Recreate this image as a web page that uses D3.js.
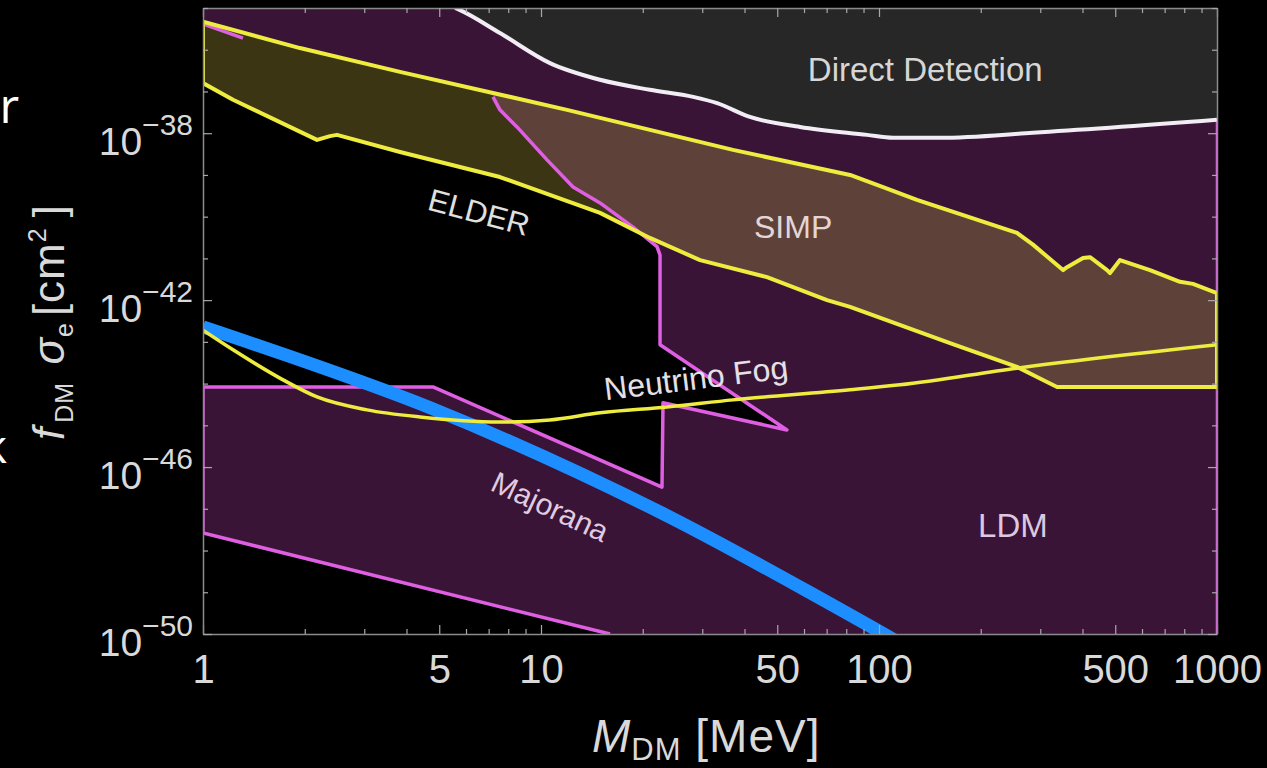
<!DOCTYPE html>
<html>
<head>
<meta charset="utf-8">
<script src="https://cdn.jsdelivr.net/npm/d3@7"></script>
<style>
  html, body { margin: 0; padding: 0; background: #000; }
  svg { display: block; }
</style>
</head>
<body>
<svg id="chart" width="1267" height="768"></svg>
<script>
// Dark-matter mass in MeV, cross-sections as log10(sigma / cm^2)
const massTickLabels = [1, 5, 10, 50, 100, 500, 1000];
const sigmaTickLabels = [-50, -46, -42, -38];

// Direct-detection exclusion boundary
const directDetection = [[5.57,-35.0],[5.76,-35.05],[7.56,-35.60],[10.63,-36.32],[14.95,-36.72],
  [21.0,-36.96],[28.2,-37.13],[33.2,-37.28],[41.5,-37.61],[58.4,-37.85],[92.2,-38.04],
  [110,-38.11],[151.6,-38.11],[285.5,-37.99],[1000,-37.68]];

// Upper and lower edges of the ELDER / SIMP band
const bandUpper = [[1,-35.33],[1.936,-35.96],[3.827,-36.53],[11.94,-37.44],[36.98,-38.40],
  [82.1,-39.0],[102.8,-39.29],[129.5,-39.60],[256,-40.39],[285.5,-40.67],[350.3,-41.28],
  [359.9,-41.21],[401.5,-40.99],[421,-40.97],[472.8,-41.28],[482.5,-41.35],[516.4,-41.04],
  [633.7,-41.28],[777.3,-41.56],[849.2,-41.61],[1000,-41.83]];
const bandLower = [[1,-36.80],[1.227,-37.20],[2.175,-38.16],[2.375,-38.07],[2.491,-38.04],
  [3.827,-38.45],[7.56,-39.05],[14.95,-39.91],[21.0,-40.51],[29.55,-41.04],[46.63,-41.45],
  [70.2,-42.0],[82.1,-42.16],[162.2,-43.03],[256,-43.60],[293.4,-43.84],[336.3,-44.08],
  [1000,-44.08]];

// Light-DM boundary: Majorana strip and neutrino-fog notch
const majoranaEdge = [[16.0,-50],[1,-47.58],[1,-44.08],[4.79,-44.08],[22.8,-46.48],
  [22.96,-44.46],[53.4,-45.11],[22.5,-43.07]];
// SIMP boundary, from the notch up to the top of the band
const simpEdge = [[22.5,-43.07],[22.5,-40.92],[22.04,-40.72],[18.72,-40.25],[14.95,-39.67],
  [12.44,-39.29],[10.42,-38.64],[8.49,-37.85],[7.56,-37.44],[7.21,-37.13]];
const simpTopEdge = [[1,-35.38],[1.313,-35.72]];
const ldmRightEdge = [[1000,-37.68],[1000,-50]];

// Majorana prediction
const majorana = [[1,-42.64],[4.70,-44.58],[22.5,-47.08],[115.4,-50.22]];

// Freeze-in style curve
const lowerCurve = [[1,-42.72],[1.227,-43.19],[1.725,-43.91],[2.175,-44.32],[3.057,-44.63],
  [4.385,-44.80],[7.56,-44.92],[10.63,-44.87],[14.95,-44.70],[23.6,-44.56],[36.98,-44.39],
  [82.1,-44.15],[115.4,-44.03],[256,-43.63],[1000,-43.07]];

const svg = d3.select("#chart");
const x = d3.scaleLog().domain([1, 1000]).range([203, 1217]);
const y = d3.scaleLog().domain([1e-50, 1e-35]).range([634, 8]);
const px = d => x(d[0]);
const py = d => y(Math.pow(10, d[1]));
const line = d3.line().x(px).y(py);
const smooth = d3.line().x(px).y(py).curve(d3.curveMonotoneX);
const spline = d3.line().x(px).y(py).curve(d3.curveCatmullRom);

const colors = {
  ldm: "#3a1436", black: "#000000", dd: "#272727", elder: "#3b3514", simp: "#5e4239",
  yellow: "#eeec3e", magenta: "#df5fe3", blue: "#1d8eff", white: "#f2ecf4",
  axis: "#8a8a8a", text: "#d9d9d9"
};
const font = "'Liberation Sans', Arial, sans-serif";

const defs = svg.append("defs");
defs.append("clipPath").attr("id", "plotClip").append("rect")
  .attr("x", x(1)).attr("y", y(1e-35))
  .attr("width", x(1000) - x(1)).attr("height", y(1e-50) - y(1e-35));

// region right of the SIMP boundary
const simpClipPts = simpEdge.concat([[simpEdge[simpEdge.length-1][0], -35], [1000, -35], [1000, -50], [simpEdge[0][0], -50]]);
defs.append("clipPath").attr("id", "simpClip").append("path").attr("d", line(simpClipPts) + "Z");

const plot = svg.append("g").attr("clip-path", "url(#plotClip)");

// LDM background
plot.append("rect")
  .attr("x", x(1)).attr("y", y(1e-35))
  .attr("width", x(1000) - x(1)).attr("height", y(1e-50) - y(1e-35))
  .attr("fill", colors.ldm);

// unexplored region above the Majorana strip
const leftOfSimp = bandUpper.filter(d => d[0] < simpEdge[simpEdge.length-1][0]).reverse();
const blackPts = majoranaEdge.slice(2).concat(simpEdge.slice(1), leftOfSimp);
plot.append("path").attr("d", line(blackPts) + "Z").attr("fill", colors.black);
// region below the Majorana strip
plot.append("path").attr("d", line([majoranaEdge[0], majoranaEdge[1], [1, -50]]) + "Z").attr("fill", colors.black);

// direct detection exclusion
plot.append("path").attr("d", line(directDetection.concat([[1000, -35]])) + "Z").attr("fill", colors.dd);

// ELDER / SIMP band
const bandPts = bandUpper.concat(bandLower.slice().reverse());
plot.append("path").attr("d", line(bandPts) + "Z").attr("fill", colors.elder);
plot.append("path").attr("d", line(bandPts) + "Z").attr("fill", colors.simp).attr("clip-path", "url(#simpClip)");

// magenta boundaries
const magentaStyle = sel => sel.attr("fill", "none").attr("stroke", colors.magenta)
  .attr("stroke-width", 3.5).attr("stroke-linejoin", "round");
plot.append("path").attr("d", line(majoranaEdge.concat(simpEdge.slice(1)))).call(magentaStyle);
plot.append("path").attr("d", line(simpTopEdge)).call(magentaStyle);
plot.append("path").attr("d", line(ldmRightEdge)).call(magentaStyle).attr("stroke-width", 2.5);

// Majorana line
plot.append("path").attr("d", spline(majorana))
  .attr("fill", "none").attr("stroke", colors.blue).attr("stroke-width", 13);

// yellow boundaries
plot.append("path").attr("d", line(bandPts) + "Z")
  .attr("fill", "none").attr("stroke", colors.yellow).attr("stroke-width", 4).attr("stroke-linejoin", "round");
plot.append("path").attr("d", smooth(lowerCurve))
  .attr("fill", "none").attr("stroke", colors.yellow).attr("stroke-width", 3.5);

// direct detection edge
plot.append("path").attr("d", smooth(directDetection))
  .attr("fill", "none").attr("stroke", colors.white).attr("stroke-width", 4);

// axes
const massTicks = [];
[1, 10, 100].forEach(b => { for (let k = 1; k <= 9; k++) massTicks.push(b * k); });
massTicks.push(1000);
const sigmaTicks = d3.range(-50, -34).map(e => Math.pow(10, e));
const isMajorMass = d => massTickLabels.includes(d);
const isMajorSigma = d => sigmaTickLabels.includes(Math.round(Math.log10(d)));

const styleAxis = (g, isMajor) => {
  g.select(".domain").attr("stroke", colors.axis).attr("stroke-width", 1.5);
  g.selectAll(".tick line").attr("stroke", "#a8a8a8").attr("stroke-width", 1.2)
    .each(function(d) {
      const ln = d3.select(this);
      const scale = isMajor(d) ? 9 / 5 : 1;
      ["x2", "y2"].forEach(a => { const v = +ln.attr(a); if (v) ln.attr(a, v * scale); });
    });
};

const xAxis = svg.append("g").attr("transform", `translate(0,${y(1e-50)})`)
  .call(d3.axisBottom(x).tickValues(massTicks).tickSizeInner(-5).tickSizeOuter(0).tickPadding(21)
    .tickFormat(d => isMajorMass(d) ? String(d) : ""));
styleAxis(xAxis, isMajorMass);
xAxis.selectAll(".tick text").attr("fill", colors.text)
  .style("font-family", font).style("font-size", "40px");

svg.append("g").attr("transform", `translate(0,${y(1e-35)})`)
  .call(d3.axisTop(x).tickValues(massTicks).tickSizeInner(-5).tickSizeOuter(0).tickFormat(""))
  .call(g => styleAxis(g, isMajorMass));

const yAxis = svg.append("g").attr("transform", `translate(${x(1)},0)`)
  .call(d3.axisLeft(y).tickValues(sigmaTicks).tickSizeInner(-5).tickSizeOuter(0).tickFormat(""));
styleAxis(yAxis, isMajorSigma);
yAxis.selectAll(".tick").filter(isMajorSigma).append("text")
  .attr("x", -10).attr("y", 21).attr("text-anchor", "end").attr("fill", colors.text)
  .style("font-family", font)
  .each(function(d) {
    const t = d3.select(this);
    t.append("tspan").style("font-size", "39px").text("10");
    t.append("tspan").style("font-size", "30px").attr("dy", -20)
      .text("\u2212" + Math.abs(Math.round(Math.log10(d))));
  });

svg.append("g").attr("transform", `translate(${x(1000)},0)`)
  .call(d3.axisRight(y).tickValues(sigmaTicks).tickSizeInner(-5).tickSizeOuter(0).tickFormat(""))
  .call(g => styleAxis(g, isMajorSigma));

// axis titles
const xTitle = svg.append("text").attr("x", 592).attr("y", 752).attr("fill", colors.text)
  .style("font-family", font).style("letter-spacing", "1px");
xTitle.append("tspan").style("font-size", "46px").style("font-style", "italic").text("M");
xTitle.append("tspan").style("font-size", "31px").attr("dy", 8).text("DM");
xTitle.append("tspan").style("font-size", "46px").attr("dy", -8).text(" [MeV]");

const yTitle = svg.append("text").attr("transform", "translate(64,322) rotate(-90)")
  .attr("text-anchor", "middle").attr("fill", colors.text).style("font-family", font)
  .style("letter-spacing", "1px");
yTitle.append("tspan").style("font-size", "44px").style("font-style", "italic").text("f");
yTitle.append("tspan").style("font-size", "25px").attr("dx", 4).attr("dy", 9).text("DM");
yTitle.append("tspan").style("font-size", "44px").attr("dy", -9).text(" ");
yTitle.append("tspan").style("font-size", "44px").attr("dx", 4).style("font-style", "italic").text("σ");
yTitle.append("tspan").style("font-size", "25px").attr("dy", 9).text("e");
yTitle.append("tspan").style("font-size", "44px").attr("dx", 6).attr("dy", -9).text("[cm");
yTitle.append("tspan").style("font-size", "25px").attr("dy", -18).text("2");
yTitle.append("tspan").style("font-size", "44px").attr("dx", 10).attr("dy", 18).text("]");

// region labels
const labels = [
  { text: "Direct Detection", at: [137, -36.75], angle: 0, size: 33, fill: "#d6d6d6" },
  { text: "SIMP", at: [55.7, -40.51], angle: 0, size: 32, fill: "#e4d6d6" },
  { text: "ELDER", at: [6.56, -39.89], angle: 15, size: 31, fill: "#e0e0e0", dy: 11 },
  { text: "Neutrino Fog", at: [28.75, -43.87], angle: -7, size: 32, fill: "#e6e0e6", dy: 11 },
  { text: "Majorana", at: [10.63, -46.96], angle: 25, size: 30, fill: "#e0cce0", dy: 10 },
  { text: "LDM", at: [249, -47.68], angle: 0, size: 33, fill: "#dcc8e0" }
];
labels.forEach(l => {
  svg.append("text")
    .attr("transform", `translate(${px(l.at)},${py(l.at)}) rotate(${l.angle})`)
    .attr("y", l.dy || 0).attr("text-anchor", "middle").attr("fill", l.fill)
    .style("font-family", font).style("font-size", l.size + "px").text(l.text);
});

// slide text running in from the left edge
svg.append("text").attr("x", 19).attr("y", 123).attr("text-anchor", "end").attr("fill", "#ffffff")
  .style("font-family", "'Open Sans', sans-serif").style("font-size", "48px").text("or");
svg.append("text").attr("x", 7).attr("y", 463).attr("text-anchor", "end").attr("fill", "#ffffff")
  .style("font-family", "'Open Sans', sans-serif").style("font-size", "46px").text("k");
</script>
</body>
</html>
